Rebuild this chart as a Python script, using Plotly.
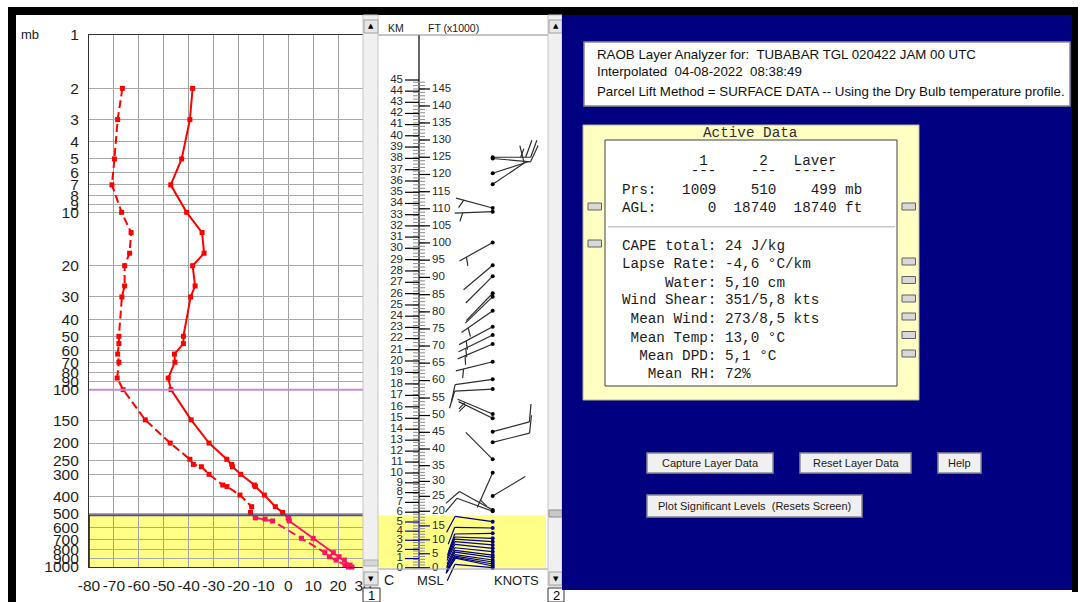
import numpy as np
import plotly.graph_objects as go

W, H = 1080, 602

# ---- Sounding: pressure (mb), temperature and dew point (deg C)
PRES = [2, 3, 5, 7, 10, 13, 17, 20, 26, 30, 50, 55, 63, 70, 86, 100, 148, 200,
        247, 264, 272, 300, 345, 352, 393, 457, 492, 527, 537, 550, 689, 830,
        875, 914, 975, 1000, 1009]
TEMP = [-38.4, -39.5, -42.8, -47.2, -40.8, -34.6, -33.8, -38.4, -37.4, -39.2,
        -42.1, -42.1, -45.7, -45.5, -48.2, -47.1, -39.0, -31.8, -24.7, -22.7,
        -22.4, -19.1, -13.6, -13.2, -9.6, -5.2, -2.3, 0.0, 0.2, 0.4, 10.0,
        18.1, 20.4, 22.5, 24.8, 25.6, 26.0]
DWPT = [-66.6, -68.5, -69.8, -70.8, -66.9, -63.1, -63.7, -65.7, -65.7, -66.8,
        -68.0, -68.0, -68.5, -68.0, -68.7, -66.3, -57.4, -47.4, -39.5, -38.1,
        -34.9, -31.8, -26.3, -24.6, -19.4, -14.7, -15.2, -13.2, -9.3, -6.3, 5.3,
        14.7, 16.5, 19.2, 22.8, 24.1, 24.5]

# active layer (mb) and tropopause level
LAYER_BOT, LAYER_TOP = 1009, 510
TROPO = 100

# ---- Winds: level (mb), direction (deg), speed (kt)
WIND_P = [4.89, 4.97, 6.02, 6.95, 9.45, 9.92, 14.8, 19.9, 22.9, 28.6, 29.9,
          35.9, 44.2, 49.2, 55.3, 69.6, 87.4, 99.2, 137.2, 145.0, 172.6, 198.1,
          247.0, 294.0, 397.9, 477, 485, 555.4, 602.6, 645.7, 689, 720, 751,
          785, 820, 856, 882, 913, 937, 962, 987, 1009]
WIND_DIR = [90, 95, 72, 56, 285, 268, 241, 230, 225, 224, 226, 235, 242, 244,
            247, 256, 262, 267, 293, 296, 75, 76, 315, 204, 59, 299, 290, 278,
            271, 269, 272, 274, 275, 276, 276, 277, 278, 278, 279, 280, 282, 275]
WIND_SPD = [25, 10, 3, 10, 5, 5, 5, 3, 3, 3, 3, 5, 5, 5, 5, 5, 10, 10, 5, 5,
            10, 10, 3, 5, 3, 10, 10, 10, 10, 10, 10, 10, 10, 10, 10, 10, 10,
            10, 10, 10, 10, 10]

# ---- Height of the sounding (km MSL) against pressure (mb)
KM_NODE = [0, 5, 10, 15, 20, 25, 30, 35, 40, 45]
P_NODE = [1009, 557.5, 295.1, 145.0, 68.9, 33.3, 15.95, 7.71, 3.70, 1.794]

P_TICKS = [1, 2, 3, 4, 5, 6, 7, 8, 9, 10, 20, 30, 40, 50, 60, 70, 80, 90, 100,
           150, 200, 250, 300, 400, 500, 600, 700, 800, 900, 1000]
T_TICKS = [-80, -70, -60, -50, -40, -30, -20, -10, 0, 10, 20, 30]

ACTIVE_LINES = [
    ("         1      2   Laver", 160.7),
    ("        ---    ---  -----", 171.0),
    ("Prs:   1009    510    499 mb", 190.0),
    ("AGL:      0  18740  18740 ft", 208.3),
    ("CAPE total: 24 J/kg", 245.7),
    ("Lapse Rate: -4,6 °C/km", 264.3),
    ("     Water: 5,10 cm", 282.7),
    ("Wind Shear: 351/5,8 kts", 300.3),
    (" Mean Wind: 273/8,5 kts", 319.3),
    (" Mean Temp: 13,0 °C", 337.7),
    ("  Mean DPD: 5,1 °C", 356.0),
    ("   Mean RH: 72%", 374.3),
]

SANS = "Liberation Sans"
MONO = "Liberation Mono"
RED = "#ff0000"
PINK = "#ff1464"
NAVY = "#000080"

PXD = (567 - 35) / 3.0          # pixels per decade of pressure


def km_to_p(km):
    return 10 ** np.interp(km, KM_NODE, np.log10(P_NODE))


fig = go.Figure()

# ---------------- left panel: temperature / dew point profile
k = next(i for i, p in enumerate(PRES) if p >= LAYER_TOP)
for vals, dash, in_layer in ((TEMP, "solid", False), (DWPT, "8px,4px", False),
                            (TEMP, "solid", True), (DWPT, "8px,4px", True)):
    sl = slice(k, None) if in_layer else slice(0, k + 1)
    col = PINK if in_layer else RED
    fig.add_trace(go.Scatter(
        x=vals[sl], y=PRES[sl], mode="lines+markers", xaxis="x", yaxis="y",
        line=dict(color=col, width=2, dash=dash),
        marker=dict(symbol="square", size=5, color=col), cliponaxis=False,
        hoverinfo="skip", showlegend=False))

# tropopause and layer-top levels
fig.add_trace(go.Scatter(x=[-80, 30], y=[TROPO, TROPO], mode="lines",
                         line=dict(color="#c48cd8", width=2), xaxis="x", yaxis="y",
                         hoverinfo="skip", showlegend=False))
fig.add_trace(go.Scatter(x=[-80, 30], y=[LAYER_TOP, LAYER_TOP], mode="lines",
                         line=dict(color="#505078", width=2), xaxis="x", yaxis="y",
                         hoverinfo="skip", showlegend=False))
fig.add_trace(go.Scatter(x=[-80, -80], y=[LAYER_TOP, 1000], mode="lines",
                         line=dict(color="#0000c0", width=1.5), xaxis="x", yaxis="y",
                         hoverinfo="skip", showlegend=False))
fig.add_trace(go.Scatter(x=[-81.6, -81.6], y=[TROPO, LAYER_TOP], mode="markers",
                         marker=dict(symbol="triangle-right", size=9,
                                     color=["#800080", "#0000ff"]),
                         cliponaxis=False, xaxis="x", yaxis="y",
                         hoverinfo="skip", showlegend=False))

# ---------------- middle panel: height scales
X_AXIS = 419
fig.add_trace(go.Scatter(x=[X_AXIS, X_AXIS], y=[1, LAYER_TOP], mode="lines",
                         line=dict(color="#000000", width=1.2), xaxis="x2", yaxis="y2",
                         hoverinfo="skip", showlegend=False))
fig.add_trace(go.Scatter(x=[X_AXIS, X_AXIS], y=[LAYER_TOP, LAYER_BOT], mode="lines",
                         line=dict(color="#0000b0", width=1.2), xaxis="x2", yaxis="y2",
                         hoverinfo="skip", showlegend=False))


def seg_trace(segs, color, width=1.2):
    xs, ys = [], []
    for (xa, pa), (xb, pb) in segs:
        xs += [xa, xb, None]
        ys += [pa, pb, None]
    fig.add_trace(go.Scatter(x=xs, y=ys, mode="lines", xaxis="x2", yaxis="y2",
                             line=dict(color=color, width=width),
                             hoverinfo="skip", showlegend=False))


ft_gray, ft_black, ft_blue, km_black, km_blue = [], [], [], [], []
for kft in range(0, 148):
    p = km_to_p(kft * 0.3048)
    ft_gray.append(((413, p), (425, p)))
    if kft % 5 == 0:
        (ft_blue if p > LAYER_TOP else ft_black).append(((419, p), (430, p)))
for km in range(0, 46):
    p = km_to_p(km)
    (km_blue if p > LAYER_TOP else km_black).append(((405, p), (419, p)))
seg_trace(ft_gray, "#8c8c8c", 1)
seg_trace(ft_black, "#000000")
seg_trace(ft_blue, "#0000b0")
seg_trace(km_black, "#000000")
seg_trace(km_blue, "#0000b0")

KM_LAB = list(range(0, 46))
FT_LAB = list(range(0, 146, 5))
fig.add_trace(go.Scatter(x=[403] * len(KM_LAB), y=[km_to_p(v) for v in KM_LAB],
                         text=[str(v) for v in KM_LAB], mode="text",
                         textposition="middle left", xaxis="x2", yaxis="y2",
                         textfont=dict(family=SANS, size=11.5, color="#2a2a2a"),
                         hoverinfo="skip", showlegend=False))
fig.add_trace(go.Scatter(x=[432] * len(FT_LAB),
                         y=[km_to_p(v * 0.3048) for v in FT_LAB],
                         text=[str(v) for v in FT_LAB], mode="text",
                         textposition="middle right", xaxis="x2", yaxis="y2",
                         textfont=dict(family=SANS, size=11.5, color="#2a2a2a"),
                         hoverinfo="skip", showlegend=False))

# ---------------- middle panel: wind barbs
STAFF, FULL, HALF, GAP = 38, 18, 9, 5
X_BASE = 492.7
ROT = np.radians(70)


def shift(p, dy):
    return p * 10 ** (-dy / PXD)


upper, lower = [], []
dots_u, dots_l = [], []
for p, d, spd in zip(WIND_P, WIND_DIR, WIND_SPD):
    th = np.radians(d)
    sx, sy = np.sin(th), np.cos(th)
    bx = sx * np.cos(ROT) - sy * np.sin(ROT)
    by = sx * np.sin(ROT) + sy * np.cos(ROT)
    segs = [((X_BASE, p), (X_BASE + STAFF * sx, shift(p, STAFF * sy)))]
    n10, n5 = int(spd // 10), int(spd % 10 >= 5)
    pos = STAFF
    for _ in range(n10):
        x0, y0 = pos * sx, pos * sy
        segs.append(((X_BASE + x0, shift(p, y0)),
                     (X_BASE + x0 + FULL * bx, shift(p, y0 + FULL * by))))
        pos -= GAP
    if n5:
        if n10 == 0:
            pos = STAFF - 8
        x0, y0 = pos * sx, pos * sy
        segs.append(((X_BASE + x0, shift(p, y0)),
                     (X_BASE + x0 + HALF * bx, shift(p, y0 + HALF * by))))
    if p > LAYER_TOP:
        lower += segs
        dots_l.append(p)
    else:
        upper += segs
        dots_u.append(p)
seg_trace(upper, "#2e2e2e", 1.2)
seg_trace(lower, NAVY, 1.2)
for dots, col in ((dots_u, "#000000"), (dots_l, NAVY)):
    fig.add_trace(go.Scatter(x=[X_BASE] * len(dots), y=dots, mode="markers",
                             marker=dict(size=4, color=col), xaxis="x2", yaxis="y2",
                             hoverinfo="skip", showlegend=False))

# ---------------- page furniture


def px(x):
    return x / W


def py(y):
    return 1 - y / H


def box(x0, y0, x1, y1, fill, line=None, lw=1, layer="above"):
    fig.add_shape(type="rect", xref="paper", yref="paper", x0=px(x0), x1=px(x1),
                  y0=py(y1), y1=py(y0), fillcolor=fill, layer=layer,
                  line=dict(color=line if line else fill, width=lw if line else 0))


def hline(x0, x1, y, color, lw=1):
    fig.add_shape(type="line", xref="paper", yref="paper", x0=px(x0), x1=px(x1),
                  y0=py(y), y1=py(y), line=dict(color=color, width=lw), layer="above")


def note(x, y, text, size=13, color="#202020", family=SANS, xa="left", ya="middle"):
    fig.add_annotation(x=px(x), y=py(y), xref="paper", yref="paper", text=text,
                       showarrow=False, xanchor=xa, yanchor=ya, align="left",
                       borderpad=0, font=dict(size=size, color=color, family=family))


# active layer shading (under the grids)
fig.add_shape(type="rect", xref="x", yref="y", x0=-80, x1=30, y0=LAYER_BOT,
              y1=LAYER_TOP, fillcolor="#ffff88", line=dict(width=0), layer="below")
fig.add_shape(type="rect", xref="x2", yref="y2", x0=378, x1=546, y0=LAYER_BOT,
              y1=LAYER_TOP, fillcolor="#ffff88", line=dict(width=0), layer="below")

# outer frame
box(8, 7, 1078, 15, "#000000")
box(8, 7, 16, 602, "#000000")
box(1072, 7, 1078, 592, "#000000")

# middle panel header rule and bottom rule
hline(378, 548, 35, "#8a8a8a", 1)
hline(378, 548, 569, "#9a9a9a", 1)

# scrollbars
for x0, x1, lab in ((363, 378, "1"), (548, 562, "2")):
    box(x0, 15, x1, 586, "#f0f0f0", "#c4c4c4", 1)
    box(x0 + 1, 20, x1, 33, "#e6e6e6", "#a0a0a0", 1)
    box(x0 + 1, 572, x1, 585, "#e6e6e6", "#a0a0a0", 1)
    note((x0 + x1) / 2 + 0.5, 26.5, "▲", size=7, color="#000000", family="DejaVu Sans", xa="center")
    note((x0 + x1) / 2 + 0.5, 578.5, "▼", size=7, color="#000000", family="DejaVu Sans", xa="center")
    box(x0, 588, x1 + 2, 602, "#ffffff", "#303030", 1)
    note((x0 + x1) / 2 + 1, 595.5, lab, size=13, color="#000000", xa="center")
box(364, 560, 378, 566, "#d6d6d6", "#b0b0b0", 1)
box(549, 510, 562, 517, "#c8c8c8", "#8c8c8c", 1)

# labels around the panels
note(20, 35, "mb", size=13)
note(396, 28, "KM", size=10.5, xa="center")
note(453, 28, "FT (x1000)", size=10.5, xa="center")
note(383, 580, "C", size=14)
note(430, 580, "MSL", size=13, xa="center")
note(516, 580, "KNOTS", size=13, xa="center")

# right-hand analysis pane
box(562, 15, 1072, 590, NAVY)
box(584, 42, 1070, 106, "#ffffff", "#8a8a8a", 1.5)
note(596, 55, "RAOB Layer Analyzer for:  TUBABAR TGL 020422 JAM 00 UTC", size=13.3, color="#111111")
note(596, 71.5, "Interpolated  04-08-2022  08:38:49", size=13.3, color="#111111")
note(596, 91.5, "Parcel Lift Method = SURFACE DATA -- Using the Dry Bulb temperature profile.",
     size=13.3, color="#111111")

box(583, 125, 919, 400, "#ffffc4", "#b4b4a0", 1)
box(605, 140, 897, 386, "#ffffff", "#404040", 1)
note(750, 133, "Active Data", size=14.3, color="#303030", family=MONO, xa="center")
for txt, y in ACTIVE_LINES:
    note(620.7, y, txt.replace(" ", "\u00a0"), size=14.3, color="#1c1c1c", family=MONO)
hline(608, 895, 226.7, "#c8c8c8", 1.5)

for y in (203, 240):
    box(588, y, 601.5, y + 7, "#d8d8d8", "#606060", 1)
for y in (203, 258, 276.5, 295, 313, 331.5, 350):
    box(902, y, 915.5, y + 7, "#d8d8d8", "#606060", 1)

for x0, y0, x1, y1, lab in ((647, 453, 773, 473, "Capture Layer Data"),
                            (800, 453, 911, 473, "Reset Layer Data"),
                            (938, 453, 981, 473, "Help"),
                            (647, 495, 862, 517, "Plot Significant Levels  (Resets Screen)")):
    box(x0, y0, x1, y1, "#f0f0f0", "#8a8a8a", 1.5)
    note((x0 + x1) / 2, (y0 + y1) / 2, lab.replace("  ", "\u00a0 "), size=11, color="#1a1a1a", xa="center")

fig.update_layout(
    width=W, height=H, margin=dict(l=0, r=0, t=0, b=0, autoexpand=False), autosize=False,
    paper_bgcolor="#ffffff", plot_bgcolor="rgba(0,0,0,0)", showlegend=False,
    xaxis=dict(domain=[px(89), px(363)], range=[-80, 30], tickvals=T_TICKS,
               ticktext=[str(v) for v in T_TICKS], showgrid=True, gridcolor="#a0a0a0",
               gridwidth=1, zeroline=False, showline=True, mirror=True,
               linecolor="#303030", linewidth=1.2, ticks="", ticklabelstandoff=4,
               tickangle=0, automargin=False,
               tickfont=dict(family=SANS, size=15.5, color="#1e1e1e"), anchor="y",
               fixedrange=True),
    yaxis=dict(domain=[py(567), py(35)], type="log", range=[3, 0], tickvals=P_TICKS,
               ticktext=[str(v) for v in P_TICKS], showgrid=True, gridcolor="#a8a8a8",
               gridwidth=1, zeroline=False, showline=True, mirror=True,
               linecolor="#303030", linewidth=1.2, ticks="", ticklabelstandoff=6,
               automargin=False,
               tickfont=dict(family=SANS, size=15.5, color="#1e1e1e"), anchor="x",
               fixedrange=True),
    xaxis2=dict(domain=[px(378), px(548)], range=[378, 548], visible=False,
                anchor="y2", fixedrange=True, automargin=False),
    yaxis2=dict(domain=[py(585), py(35)], type="log",
                range=[3 + (585 - 567) / PXD, 0], visible=False, anchor="x2",
                fixedrange=True, automargin=False),
)

fig.write_html("out.html", config={"displayModeBar": False})
